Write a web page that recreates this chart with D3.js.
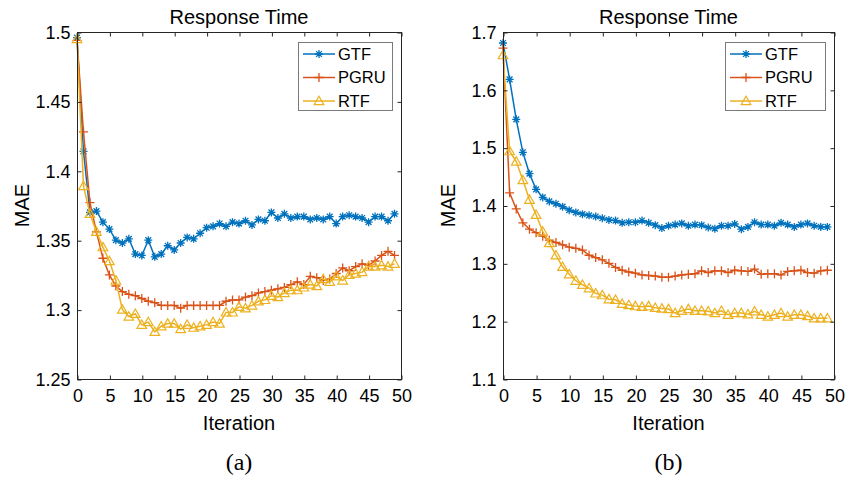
<!DOCTYPE html>
<html>
<head>
<meta charset="utf-8">
<script src="https://cdn.jsdelivr.net/npm/d3@7"></script>
<style>
  body { margin: 0; background: #fff; }
  svg { display: block; font-family: "Liberation Sans", Arial, sans-serif; }
</style>
</head>
<body>
<svg id="fig" width="845" height="477"></svg>
<script>
// data
const iterations = d3.range(0, 50)
const xTicks = [0, 5, 10, 15, 20, 25, 30, 35, 40, 45, 50]
const leftYTicks = [1.25, 1.3, 1.35, 1.4, 1.45, 1.5]
const rightYTicks = [1.1, 1.2, 1.3, 1.4, 1.5, 1.6, 1.7]
const seriesNames = ["GTF", "PGRU", "RTF"]

const leftGTF = [1.496, 1.414, 1.370, 1.371, 1.363, 1.358, 1.350, 1.348, 1.351, 1.340,
  1.339, 1.350, 1.338, 1.340, 1.346, 1.343, 1.348, 1.352, 1.351, 1.355,
  1.359, 1.360, 1.362, 1.360, 1.363, 1.362, 1.364, 1.361, 1.365, 1.364,
  1.370, 1.366, 1.369, 1.366, 1.367, 1.367, 1.365, 1.366, 1.365, 1.367,
  1.362, 1.367, 1.368, 1.367, 1.366, 1.363, 1.367, 1.367, 1.364, 1.369]
const leftPGRU = [1.494, 1.428, 1.377, 1.356, 1.337, 1.325, 1.317, 1.313, 1.311, 1.310,
  1.308, 1.306, 1.305, 1.303, 1.303, 1.303, 1.301, 1.303, 1.303, 1.303,
  1.303, 1.303, 1.303, 1.306, 1.307, 1.307, 1.309, 1.310, 1.312, 1.313,
  1.314, 1.315, 1.316, 1.318, 1.320, 1.318, 1.324, 1.323, 1.321, 1.322,
  1.326, 1.330, 1.328, 1.331, 1.333, 1.332, 1.335, 1.339, 1.342, 1.339]
const leftRTF = [1.495, 1.389, 1.369, 1.356, 1.345, 1.335, 1.321, 1.300, 1.295, 1.297,
  1.289, 1.291, 1.284, 1.288, 1.290, 1.290, 1.286, 1.289, 1.287, 1.288,
  1.289, 1.291, 1.290, 1.298, 1.298, 1.302, 1.301, 1.303, 1.306, 1.307,
  1.310, 1.309, 1.312, 1.314, 1.314, 1.316, 1.318, 1.317, 1.322, 1.320,
  1.324, 1.321, 1.325, 1.326, 1.327, 1.331, 1.331, 1.332, 1.331, 1.333]

const rightGTF = [1.681, 1.618, 1.549, 1.492, 1.455, 1.428, 1.414, 1.407, 1.403, 1.398,
  1.392, 1.388, 1.385, 1.383, 1.381, 1.378, 1.375, 1.374, 1.370, 1.371,
  1.371, 1.374, 1.370, 1.366, 1.361, 1.365, 1.367, 1.369, 1.365, 1.367,
  1.366, 1.362, 1.360, 1.365, 1.365, 1.368, 1.359, 1.363, 1.371, 1.367,
  1.367, 1.365, 1.370, 1.367, 1.363, 1.367, 1.369, 1.365, 1.363, 1.363]
const rightPGRU = [1.672, 1.422, 1.394, 1.370, 1.359, 1.353, 1.347, 1.340, 1.336, 1.332,
  1.328, 1.326, 1.323, 1.314, 1.310, 1.306, 1.300, 1.293, 1.288, 1.285,
  1.283, 1.280, 1.279, 1.278, 1.276, 1.276, 1.278, 1.280, 1.281, 1.282,
  1.287, 1.284, 1.287, 1.287, 1.284, 1.288, 1.287, 1.286, 1.290, 1.281,
  1.282, 1.282, 1.280, 1.286, 1.287, 1.288, 1.284, 1.283, 1.287, 1.288]
const rightRTF = [1.660, 1.494, 1.476, 1.444, 1.410, 1.384, 1.355, 1.335, 1.314, 1.294,
  1.281, 1.270, 1.263, 1.257, 1.248, 1.245, 1.238, 1.237, 1.230, 1.228,
  1.226, 1.225, 1.226, 1.223, 1.222, 1.221, 1.214, 1.218, 1.221, 1.218,
  1.218, 1.217, 1.214, 1.218, 1.211, 1.214, 1.214, 1.212, 1.217, 1.211,
  1.208, 1.211, 1.214, 1.208, 1.211, 1.211, 1.209, 1.205, 1.205, 1.205]

const colors = ["#0072BD", "#D95319", "#EDB120"]
const markers = ["star", "plus", "triangle"]
const axisColor = "#262626"

const svg = d3.select("#fig")

const panels = [
  { x0: 77, x1: 401, y0: 32, y1: 379, yDomain: [1.25, 1.5], yTicks: leftYTicks,
    fmt: d => d3.format("")(+d.toFixed(2)), series: [leftGTF, leftPGRU, leftRTF],
    caption: "(a)", legendW: 94 },
  { x0: 503, x1: 834, y0: 32, y1: 379, yDomain: [1.1, 1.7], yTicks: rightYTicks,
    fmt: d => d3.format("")(+d.toFixed(1)), series: [rightGTF, rightPGRU, rightRTF],
    caption: "(b)", legendW: 100 }
]

function drawMarker(g, type, x, y, color) {
  if (type === "star") {
    const r = 4, q = r * 0.72
    g.append("path")
      .attr("d", `M${x - r},${y}H${x + r}M${x},${y - r}V${y + r}M${x - q},${y - q}L${x + q},${y + q}M${x - q},${y + q}L${x + q},${y - q}`)
      .attr("stroke", color).attr("stroke-width", 1.3).attr("fill", "none")
  } else if (type === "plus") {
    const r = 4.5
    g.append("path")
      .attr("d", `M${x - r},${y}H${x + r}M${x},${y - r}V${y + r}`)
      .attr("stroke", color).attr("stroke-width", 1.3).attr("fill", "none")
  } else {
    const r = 4.8
    g.append("path")
      .attr("d", `M${x},${y - r}L${x + r},${y + r * 0.75}L${x - r},${y + r * 0.75}Z`)
      .attr("stroke", color).attr("stroke-width", 1.2).attr("fill", "none")
  }
}

panels.forEach(p => {
  const x = d3.scaleLinear().domain([0, 50]).range([p.x0, p.x1])
  const y = d3.scaleLinear().domain(p.yDomain).range([p.y1, p.y0])
  const g = svg.append("g")

  // series lines + markers
  p.series.forEach((vals, si) => {
    const line = d3.line().x((d, i) => x(iterations[i])).y(d => y(d))
    g.append("path").datum(vals)
      .attr("d", line)
      .attr("fill", "none")
      .attr("stroke", colors[si])
      .attr("stroke-width", 1.5)
    const mg = g.append("g")
    vals.forEach((v, i) => drawMarker(mg, markers[si], x(iterations[i]), y(v), colors[si]))
  })

  // box
  g.append("rect")
    .attr("x", p.x0 + 0.5).attr("y", p.y0 + 0.5)
    .attr("width", p.x1 - p.x0).attr("height", p.y1 - p.y0)
    .attr("fill", "none").attr("stroke", axisColor).attr("stroke-width", 1)

  // axes with inward ticks
  const xAxis = g.append("g").attr("transform", `translate(0.5,${p.y1 + 0.5})`)
    .call(d3.axisBottom(x).tickValues(xTicks).tickSize(-4).tickPadding(10).tickFormat(d3.format("d")))
  const xTop = g.append("g").attr("transform", `translate(0.5,${p.y0 + 0.5})`)
    .call(d3.axisTop(x).tickValues(xTicks).tickSize(-4).tickFormat(""))
  const yAxis = g.append("g").attr("transform", `translate(${p.x0 + 0.5},0.5)`)
    .call(d3.axisLeft(y).tickValues(p.yTicks).tickSize(-4).tickPadding(7).tickFormat(p.fmt))
  const yRight = g.append("g").attr("transform", `translate(${p.x1 + 0.5},0.5)`)
    .call(d3.axisRight(y).tickValues(p.yTicks).tickSize(-4).tickFormat(""))
  ;[xAxis, xTop, yAxis, yRight].forEach(a => {
    a.select(".domain").remove()
    a.selectAll("line").attr("stroke", axisColor)
    a.selectAll("text").attr("fill", "#000").attr("font-size", 18)
      .attr("font-family", "Liberation Sans, Arial, sans-serif")
  })
  xAxis.selectAll("text").attr("dy", "0.71em").attr("y", 10)

  const cx = (p.x0 + p.x1) / 2
  g.append("text").attr("x", cx).attr("y", 24)
    .attr("text-anchor", "middle").attr("font-size", 20).text("Response Time")
  g.append("text").attr("x", cx).attr("y", 430)
    .attr("text-anchor", "middle").attr("font-size", 20).text("Iteration")
  g.append("text")
    .attr("transform", `translate(${p.x0 - 48},${(p.y0 + p.y1) / 2}) rotate(-90)`)
    .attr("text-anchor", "middle").attr("font-size", 20).text("MAE")
  g.append("text").attr("x", cx).attr("y", 470)
    .attr("text-anchor", "middle").attr("font-size", 24)
    .attr("font-family", "Liberation Serif, Times New Roman, serif").text(p.caption)

  // legend
  const lx = p.x1 - 9 - p.legendW, ly = p.y0 + 10
  const lg = g.append("g")
  lg.append("rect").attr("x", lx + 0.5).attr("y", ly + 0.5)
    .attr("width", p.legendW).attr("height", 68)
    .attr("fill", "#fff").attr("stroke", "#7a7a7a").attr("stroke-width", 1)
  seriesNames.forEach((name, si) => {
    const yy = ly + 12 + si * 23.5
    lg.append("line").attr("x1", lx + 5).attr("x2", lx + 37).attr("y1", yy).attr("y2", yy)
      .attr("stroke", colors[si]).attr("stroke-width", 1.5)
    drawMarker(lg, markers[si], lx + 21, yy, colors[si])
    lg.append("text").attr("x", lx + 40).attr("y", yy).attr("dy", "0.36em")
      .attr("font-size", 16.5).text(name)
  })
})
</script>
</body>
</html>
